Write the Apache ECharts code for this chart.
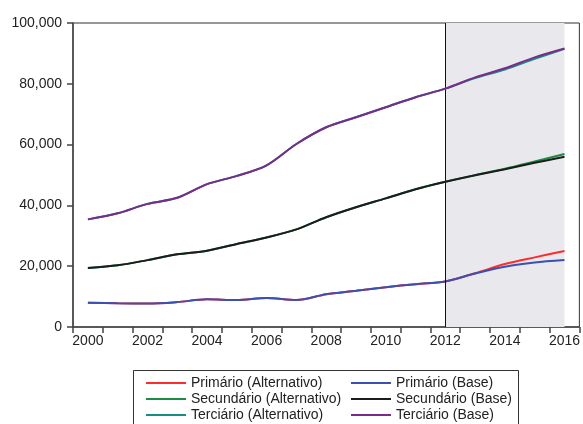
<!DOCTYPE html>
<html>
<head>
<meta charset="utf-8">
<style>
  html, body { margin: 0; padding: 0; background: #ffffff; }
  #chart { width: 583px; height: 424px; }
</style>
<script src="https://cdn.jsdelivr.net/npm/echarts@6/dist/echarts.min.js"></script>
</head>
<body>
<div id="chart"></div>
<script>
// Years on the horizontal axis
const years = ['2000','2001','2002','2003','2004','2005','2006','2007','2008',
               '2009','2010','2011','2012','2013','2014','2015','2016'];

// Primário
const primarioAlt  = [8000, 7800, 7700, 8200, 9100, 8900, 9550, 8900, 10800, 11900, 13100, 14100, 15000, 17700, 20700, 22900, 25000];
const primarioBase = [8000, 7800, 7700, 8200, 9100, 8900, 9550, 8900, 10800, 11900, 13100, 14100, 15000, 17600, 19800, 21200, 22000];

// Secundário
const secundarioAlt  = [19400, 20300, 22000, 23900, 25100, 27300, 29450, 32100, 36100, 39400, 42300, 45300, 47750, 49950, 52050, 54450, 56900];
const secundarioBase = [19400, 20300, 22000, 23900, 25100, 27300, 29450, 32100, 36100, 39400, 42300, 45300, 47750, 49900, 51900, 54000, 56000];

// Terciário
const terciarioAlt  = [35400, 37400, 40500, 42500, 47000, 49700, 53200, 60200, 65700, 69000, 72300, 75600, 78400, 81900, 84700, 88200, 91500];
const terciarioBase = [35400, 37400, 40500, 42500, 47000, 49700, 53200, 60200, 65700, 69000, 72300, 75600, 78400, 82100, 85100, 88700, 91600];

// Forecast window
const forecastStart = '2012';
const forecastEnd = '2016';

const seriesNames = [
  'Primário (Alternativo)', 'Primário (Base)',
  'Secundário (Alternativo)', 'Secundário (Base)',
  'Terciário (Alternativo)', 'Terciário (Base)'
];
const seriesData = [primarioAlt, primarioBase, secundarioAlt, secundarioBase, terciarioAlt, terciarioBase];
const seriesColors = ['#ff2a2a', '#3a50b2', '#1d8c43', '#1c1c1c', '#148f84', '#7a2b8c'];

const chart = echarts.init(document.getElementById('chart'), null, { renderer: 'canvas' });

const series = seriesNames.map((name, i) => ({
  name: name,
  type: 'line',
  data: seriesData[i],
  smooth: 0.3,
  symbol: 'none',
  lineStyle: { width: 2, color: seriesColors[i] },
  itemStyle: { color: seriesColors[i] },
  z: 3 + i
}));

// Shaded forecast region and the divider line at its start
series[0].markArea = {
  silent: true,
  itemStyle: { color: '#e9e9ed' },
  data: [[{ xAxis: forecastStart }, { xAxis: forecastEnd }]]
};
series[0].markLine = {
  silent: true,
  symbol: 'none',
  label: { show: false },
  lineStyle: { color: '#111', width: 1, type: 'solid' },
  data: [{ xAxis: forecastStart }]
};

const legendText = { fontFamily: 'Liberation Sans, Arial', fontSize: 14, color: '#222' };

chart.setOption({
  animation: false,
  backgroundColor: '#ffffff',
  grid: {
    left: 73, top: 23, right: 2, bottom: 97,
    show: true, borderColor: '#333', borderWidth: 1, backgroundColor: 'transparent'
  },
  xAxis: {
    type: 'category',
    data: years,
    boundaryGap: true,
    axisLine: { lineStyle: { color: '#444', width: 1.5 } },
    axisTick: { show: true, interval: 0, length: 6, lineStyle: { color: '#444', width: 1.5 } },
    axisLabel: {
      interval: 1, margin: 7,
      fontFamily: 'Liberation Sans, Arial', fontSize: 14, color: '#222'
    },
    splitLine: { show: false }
  },
  yAxis: {
    type: 'value',
    min: 0, max: 100000, interval: 20000,
    axisLine: { show: true, lineStyle: { color: '#444', width: 1.5 } },
    axisTick: { show: true, length: 6, lineStyle: { color: '#444', width: 1.5 } },
    axisLabel: {
      margin: 11,
      fontFamily: 'Liberation Sans, Arial', fontSize: 14, color: '#222',
      formatter: v => v.toLocaleString('en-US')
    },
    splitLine: { show: false }
  },
  legend: [
    {
      orient: 'vertical', left: 141, top: 371, height: 70,
      itemWidth: 40, itemHeight: 2, itemGap: 2, icon: 'rect',
      textStyle: legendText,
      data: [seriesNames[0], seriesNames[2], seriesNames[4]],
      selectedMode: false
    },
    {
      orient: 'vertical', left: 346, top: 371, height: 70,
      itemWidth: 40, itemHeight: 2, itemGap: 2, icon: 'rect',
      textStyle: legendText,
      data: [seriesNames[1], seriesNames[3], seriesNames[5]],
      selectedMode: false
    }
  ],
  graphic: [{
    type: 'rect',
    shape: { x: 133.5, y: 370.5, width: 385, height: 70 },
    style: { fill: 'none', stroke: '#333', lineWidth: 1 },
    silent: true
  }],
  series: series
});
</script>
</body>
</html>
